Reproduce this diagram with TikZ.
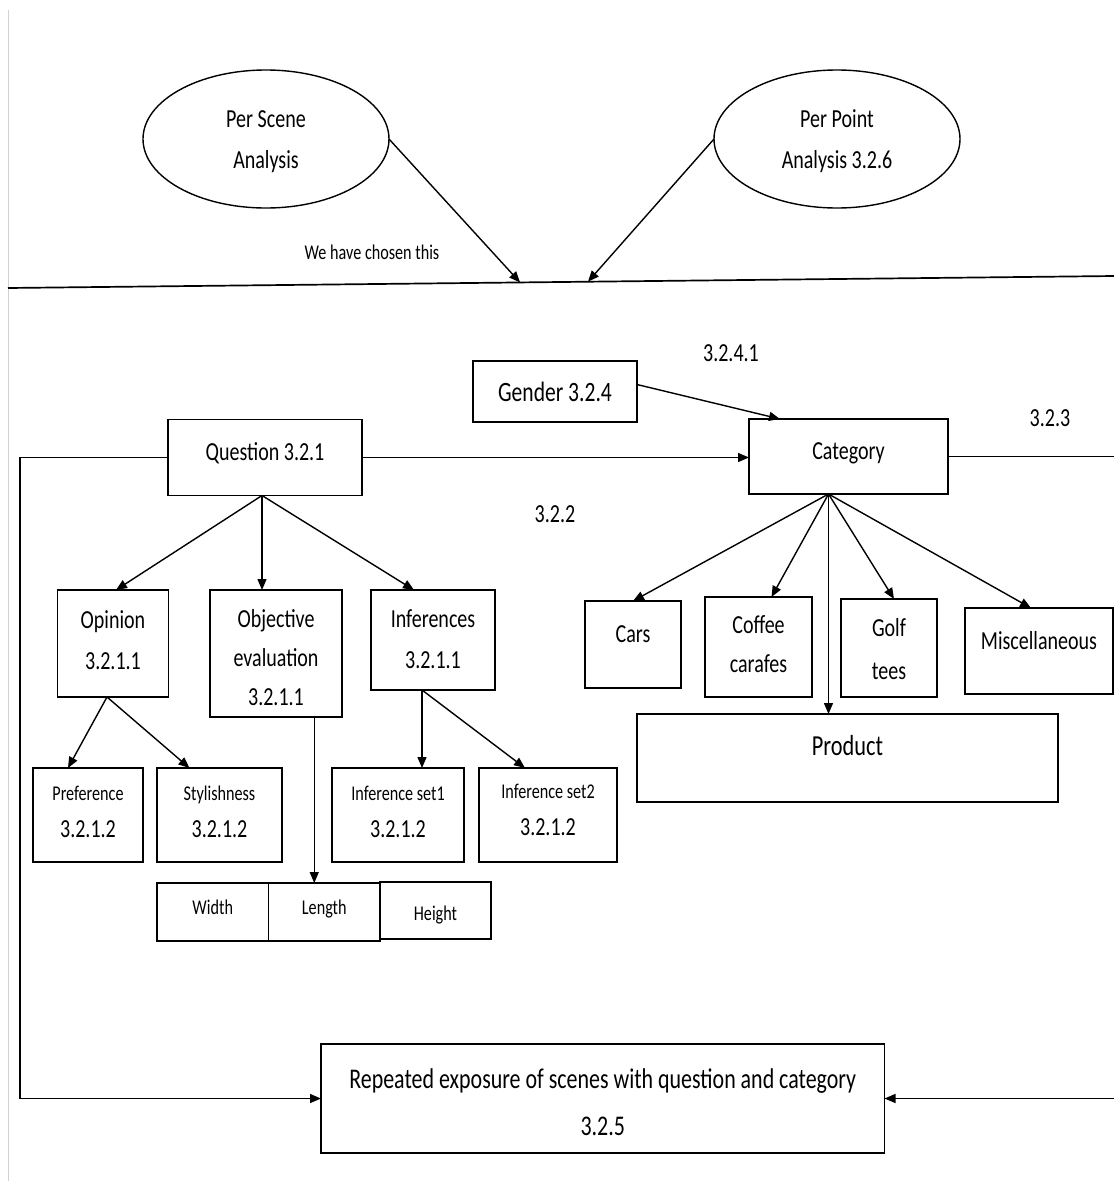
\documentclass[tikz,border=0pt]{standalone}
\usepackage{fontspec}
\setmainfont[FakeStretch=0.77]{Carlito}
\usetikzlibrary{shapes.geometric,arrows.meta,calc}
\newcommand\fBig{\fontsize{26}{41}\selectfont}
\newcommand\fSm{\fontsize{21}{26}\selectfont}
\newcommand\tb[2]{\raisebox{#1pt}[0pt][0pt]{\begin{tabular}{@{}c@{}}#2\end{tabular}}}
\begin{document}
\begin{tikzpicture}[x=1pt,y=-1pt,
  box/.style={draw, line width=1.4pt, inner sep=0pt, outer sep=0pt, font=\fBig},
  ell/.style={draw, ellipse, line width=1.4pt, inner sep=0pt, outer sep=0pt, font=\fBig, minimum width=246pt, minimum height=138pt},
  arr/.style={line width=1.4pt, -{Triangle[length=11pt,width=9pt]}},
  lbl/.style={inner sep=0pt, font=\fBig},
  slbl/.style={inner sep=0pt, font=\fSm}]
\useasboundingbox (0,0) rectangle (1114,1181);
\clip (0,0) rectangle (1114,1181);
% faint page edge
\coordinate (pgT) at (8,10);
\coordinate (pgB) at (8,1181);
\draw[gray!35, line width=1pt] (pgT) -- (pgB);

% top part
\node[ell] (ps) at (266,139) {\tb{-7.5}{Per Scene\\Analysis}};
\node[ell] (pp) at (837,139) {\tb{-7.5}{Per Point\\Analysis 3.2.6}};
\coordinate (hlL) at (8,288);
\coordinate (hlR) at (1114,276);
\draw[line width=1.7pt] (hlL) -- (hlR);
\coordinate (tA) at ($(hlL)!0.463!(hlR)$);
\coordinate (tB) at ($(hlL)!0.5244!(hlR)$);
\draw[arr] (ps.east) -- (tA);
\draw[arr] (pp.west) -- (tB);
\node[slbl] (chosen) at (372,252) {We have chosen this};

% labels
\node[lbl] (l3241) at (731,353) {3.2.4.1};
\node[lbl] (l323) at (1050,418) {3.2.3};
\node[lbl] (l322) at (555,514) {3.2.2};

% main boxes
\node[box, minimum width=164pt, minimum height=61pt, font=\fontsize{28}{41}\selectfont] (gender) at (555,391.5) {\tb{-8.5}{Gender 3.2.4}};
\node[box, minimum width=194pt, minimum height=76pt] (q) at (265,457.5) {\tb{-1.5}{Question 3.2.1}};
\node[box, minimum width=199pt, minimum height=75pt] (cat) at (848.5,456.5) {\tb{-1}{Category}};

% question children
\node[box, minimum width=111pt, minimum height=107pt] (op) at (113,643.5) {\tb{-3.5}{Opinion\\3.2.1.1}};
\node[box, minimum width=132pt, minimum height=127pt, font=\fontsize{26}{39}\selectfont] (ob) at (276,653.5) {\tb{-11}{Objective\\evaluation\\3.2.1.1}};
\node[box, minimum width=124pt, minimum height=100pt] (inf) at (433,640) {\tb{-6.5}{Inferences\\3.2.1.1}};

% grandchildren
\tikzset{gc/.style={box, minimum height=94pt, font=\fontsize{26}{37}\selectfont}}
\node[gc, minimum width=110pt] (pref) at (88,815) {\tb{-3}{{\fSm Preference}\\3.2.1.2}};
\node[gc, minimum width=125pt] (sty) at (219.5,815) {\tb{-3}{{\fSm Stylishness}\\3.2.1.2}};
\node[gc, minimum width=132pt] (set1) at (398,815) {\tb{-3}{{\fSm Inference set1}\\3.2.1.2}};
\node[gc, minimum width=138pt] (set2) at (548,815) {\tb{-1}{{\fSm Inference set2}\\3.2.1.2}};

% dimensions
\tikzset{dm/.style={box, font=\fSm}}
\node[dm, minimum width=111.5pt, minimum height=58pt] (wid) at (212.75,912) {\tb{-2.5}{Width}};
\node[dm, minimum width=111.5pt, minimum height=58pt] (len) at (324.25,912) {\tb{-2.5}{Length}};
\node[dm, minimum width=111pt, minimum height=57pt] (hgt) at (435.5,910.5) {\tb{-10}{Height}};

% category children
\node[box, minimum width=96pt, minimum height=87pt] (cars) at (633,644.5) {\tb{4}{Cars}};
\node[box, minimum width=107pt, minimum height=100pt, font=\fontsize{26}{39}\selectfont] (cof) at (758.5,647) {\tb{-4}{Coffee\\carafes}};
\node[box, minimum width=96pt, minimum height=98pt, font=\fontsize{26}{43}\selectfont] (golf) at (889,648) {\tb{-8}{Golf\\tees}};
\node[box, minimum width=148pt, minimum height=86pt] (misc) at (1039,651) {\tb{3.5}{Miscellaneous}};
\node[box, minimum width=421pt, minimum height=88pt, font=\fontsize{29}{41}\selectfont] (prod) at (847.5,758) {\tb{4}{Product}};

% repeated exposure
\node[box, minimum width=563.5pt, minimum height=109pt, font=\fontsize{28.5}{47}\selectfont] (rep) at (602.75,1098.5) {\tb{-10}{Repeated exposure of scenes with question and category\\3.2.5}};

% connectors
\draw[arr] ([yshift=7pt]gender.east) -- ([xshift=31pt]cat.north west);
\draw[arr] (q.east) -- (q.east -| cat.west);
\draw[arr] (q.west) -- ++(-148,0) |- (rep.west);
\draw[arr] (cat.east) -- ++(180,0) |- (rep.east);

\coordinate (qb) at ([xshift=-3pt]q.south);
\draw[arr] (qb) -- ([xshift=3pt]op.north);
\draw[arr] (qb) -- (qb |- ob.north);
\draw[arr] (qb) -- ([xshift=-19pt]inf.north);

\coordinate (opb) at ([xshift=-6pt]op.south);
\draw[arr] (opb) -- ([xshift=-20pt]pref.north);
\draw[arr] (opb) -- ([xshift=-30pt]sty.north);

\coordinate (infb) at ([xshift=-11pt]inf.south);
\draw[arr] (infb) -- (infb |- set1.north);
\draw[arr] (infb) -- ([xshift=-23pt]set2.north);

\coordinate (lenT) at ([xshift=-10pt]len.north);
\draw[arr] (lenT |- ob.south) -- (lenT);

\coordinate (catb) at ([xshift=-20pt]cat.south);
\draw[arr] (catb) -- (cars.north);
\draw[arr] (catb) -- ([xshift=13pt]cof.north);
\draw[arr] (catb) -- ([xshift=5pt]golf.north);
\draw[arr] (catb) -- ([xshift=-8pt]misc.north);
\draw[arr] (catb) -- (catb |- prod.north);
\end{tikzpicture}
\end{document}
